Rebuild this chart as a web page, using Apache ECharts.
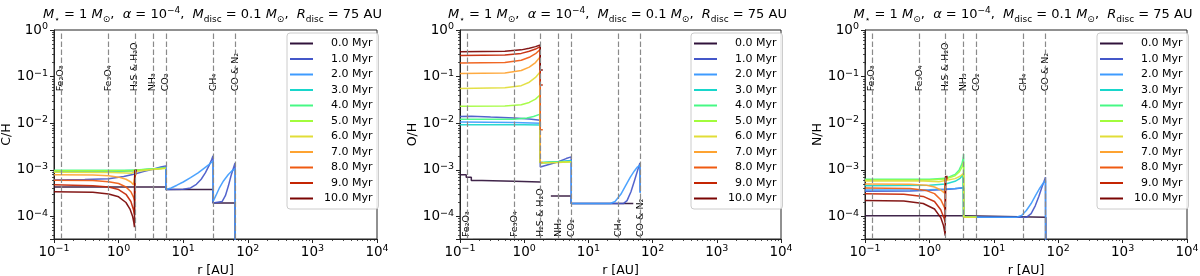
<!DOCTYPE html>
<html><head><meta charset="utf-8">
<script src="https://cdn.jsdelivr.net/npm/echarts@6/dist/echarts.min.js"></script>
<style>html,body{margin:0;padding:0;background:#fff}#c{width:1200px;height:276px}</style>
</head><body><div id="c"></div><script>
// ---------------- data ----------------
const times = ['0.0 Myr','1.0 Myr','2.0 Myr','3.0 Myr','4.0 Myr','5.0 Myr','6.0 Myr','7.0 Myr','8.0 Myr','9.0 Myr','10.0 Myr'];
const colors = ['#30123b','#4457c9','#3e9bfe','#18d6cb','#46f884','#a2fc3c','#e1dd37','#fea331','#ef5a11','#c42503','#7a0403'];
const snowR = [0.128, 0.70, 1.78, 3.4, 5.4, 29, 64];
const snowNames = ['Fe₂O₃','Fe₃O₄','H₂S & H₂O','NH₃','CO₂','CH₄','CO & N₂'];
const yNames = ['C/H','O/H','N/H'];
const xTicks = [0.1, 1, 10, 100, 1000, 10000];

// C/H
const ch0 = [[0.1,4.3e-4],[5.4,4.3e-4],[5.4,3.8e-4],[29,3.8e-4],[29,1.95e-4],[64,1.95e-4],[64,1e-6]];
const ch1 = [[0.1,6.1e-4],[0.3,6.2e-4],[0.7,6.5e-4],[1.2,7.2e-4],[1.78,8.2e-4],[2.5,9.3e-4],[3.4,1.03e-3],[4.5,1.15e-3],[5.4,1.22e-3],[5.4,3.8e-4],[10,3.85e-4],[13,4.1e-4],[16,4.9e-4],[19,6.3e-4],[22,8.6e-4],[25,1.22e-3],[27.5,1.65e-3],[29,2.0e-3],[29,1.95e-4],[40,2.1e-4],[45,2.8e-4],[50,4.5e-4],[55,7.5e-4],[60,1.1e-3],[63.5,1.4e-3],[64,1e-6]];
const ch2 = [[0.1,9.2e-4],[0.5,9.2e-4],[1.0,9.3e-4],[1.78,9.6e-4],[3.4,1.05e-3],[5.4,1.12e-3],[5.4,3.8e-4],[6.5,4.1e-4],[8,4.7e-4],[10,5.5e-4],[13,6.8e-4],[17,8.6e-4],[21,1.08e-3],[25,1.3e-3],[29,1.55e-3],[29,2.1e-4],[32,2.8e-4],[36,4.0e-4],[42,5.8e-4],[50,8.0e-4],[57,9.6e-4],[63.5,1.05e-3],[64,1e-6]];
const ch3 = [[0.1,9.5e-4],[1.0,9.5e-4],[1.78,9.8e-4],[3.4,1.04e-3],[5.4,1.1e-3]];
const ch4 = [[0.1,9.8e-4],[1.0,9.8e-4],[1.78,1.0e-3],[3.4,1.05e-3],[5.4,1.1e-3]];
const ch5 = [[0.1,9.6e-4],[1.0,9.6e-4],[1.5,9.5e-4],[1.78,9.8e-4],[3.4,1.04e-3],[5.4,1.09e-3]];
const ch6 = [[0.1,8.9e-4],[0.8,8.8e-4],[1.3,8.6e-4],[1.6,8.5e-4],[1.78,9.2e-4],[3.4,1.02e-3],[5.4,1.08e-3]];
const ch7 = [[0.1,7.9e-4],[0.4,7.8e-4],[0.7,7.5e-4],[1.0,7.0e-4],[1.3,6.3e-4],[1.55,5.5e-4],[1.7,4.8e-4],[1.77,4.5e-4],[1.78,8.0e-4],[1.92,8.0e-4]];
const ch8 = [[0.1,6.0e-4],[0.4,5.9e-4],[0.7,5.6e-4],[1.0,5.1e-4],[1.3,4.3e-4],[1.55,3.4e-4],[1.7,2.6e-4],[1.77,2.2e-4],[1.78,8.6e-4],[1.92,8.6e-4]];
const ch9 = [[0.1,4.8e-4],[0.4,4.6e-4],[0.7,4.3e-4],[1.0,3.8e-4],[1.3,3.0e-4],[1.55,2.1e-4],[1.7,1.4e-4],[1.76,1.1e-4],[1.78,9.2e-4],[1.92,9.2e-4]];
const ch10 = [[0.1,3.4e-4],[0.4,3.3e-4],[0.7,3.05e-4],[1.0,2.65e-4],[1.3,2.0e-4],[1.5,1.45e-4],[1.65,1.0e-4],[1.72,7.5e-5],[1.76,5.9e-5],[1.78,9.8e-4],[1.92,9.8e-4]];

// O/H
const oh0 = [[0.1,7.9e-4],[0.125,7.9e-4],[0.125,7.0e-4],[0.15,7.0e-4],[0.15,5.9e-4],[0.22,5.9e-4],[0.22,5.7e-4],[0.7,5.7e-4],[0.7,5.5e-4],[1.78,5.5e-4],[2.2,'-'],[2.6,2.75e-4],[5.4,2.75e-4],[5.4,1.9e-4],[50,1.9e-4]];
const oh1 = [[0.1,1.39e-2],[0.15,1.42e-2],[0.3,1.36e-2],[0.7,1.3e-2],[1.2,1.24e-2],[1.78,1.16e-2],[1.78,1.15e-3],[2.5,1.32e-3],[3.4,1.5e-3],[4.5,1.75e-3],[5.4,1.9e-3],[5.4,1.9e-4],[35,1.9e-4],[40,2.2e-4],[46,3.4e-4],[52,5.8e-4],[58,9.5e-4],[63.5,1.4e-3],[64,3.3e-4]];
const oh2 = [[0.1,1.06e-2],[0.7,1.04e-2],[1.78,1.0e-2],[1.78,1.4e-3],[3.4,1.5e-3],[5.4,1.6e-3],[5.4,1.9e-4],[22,1.9e-4],[26,2.1e-4],[32,3.0e-4],[38,4.6e-4],[45,7.0e-4],[52,9.5e-4],[58,1.15e-3],[63.5,1.27e-3],[64,3.2e-4]];
const oh3 = [[0.1,9.3e-3],[1.0,9.3e-3],[1.78,9.2e-3],[1.78,1.45e-3],[3.4,1.5e-3],[5.4,1.55e-3]];
const oh4 = [[0.1,1.22e-2],[0.7,1.22e-2],[1.1,1.3e-2],[1.4,1.4e-2],[1.78,1.57e-2],[1.78,1.42e-3],[3.4,1.47e-3],[5.4,1.52e-3]];
const oh5 = [[0.1,2.32e-2],[0.5,2.35e-2],[0.9,2.5e-2],[1.2,2.8e-2],[1.5,3.3e-2],[1.78,4.1e-2],[1.78,1.42e-3],[3.4,1.46e-3],[5.4,1.5e-3]];
const oh6 = [[0.1,5.6e-2],[0.5,5.8e-2],[0.9,6.4e-2],[1.2,7.6e-2],[1.5,9.6e-2],[1.78,0.127],[1.78,1.42e-3],[3.4,1.45e-3],[5.4,1.5e-3]];
const oh7 = [[0.1,0.117],[0.5,0.12],[0.9,0.135],[1.2,0.16],[1.5,0.2],[1.78,0.267],[1.78,1.45e-3],[1.95,1.45e-3]];
const oh8 = [[0.1,0.195],[0.5,0.2],[0.9,0.225],[1.2,0.26],[1.5,0.31],[1.78,0.385],[1.78,7.3e-3],[1.95,7.3e-3]];
const oh9 = [[0.1,0.283],[0.5,0.29],[0.9,0.315],[1.2,0.35],[1.5,0.39],[1.78,0.44],[1.78,6.6e-2],[1.95,6.6e-2]];
const oh10 = [[0.1,0.342],[0.5,0.35],[0.9,0.375],[1.2,0.405],[1.5,0.44],[1.78,0.475],[1.78,0.138],[1.95,0.138]];

// N/H
const nh0 = [[0.1,1.04e-4],[3.4,1.04e-4],[3.4,9.6e-5],[64,9.6e-5],[64,1e-6]];
const nh1 = [[0.1,3.5e-4],[0.5,3.55e-4],[1.0,3.65e-4],[1.78,3.8e-4],[2.5,3.95e-4],[3.4,4.15e-4],[3.4,9.6e-5],[32,9.6e-5],[38,1.15e-4],[44,1.7e-4],[50,2.7e-4],[56,4.3e-4],[60,5.6e-4],[63.5,7.0e-4],[64,1e-6]];
const nh2 = [[0.1,3.7e-4],[1.0,3.75e-4],[1.78,3.9e-4],[2.5,4.0e-4],[3.4,4.15e-4],[3.4,9.6e-5],[22,9.6e-5],[27,1.05e-4],[32,1.35e-4],[38,1.9e-4],[45,2.9e-4],[52,4.1e-4],[58,5.1e-4],[63.5,5.9e-4],[64,1e-6]];
const nh3 = [[0.1,4.6e-4],[1.0,4.7e-4],[1.78,5.0e-4],[2.5,5.7e-4],[3.0,6.6e-4],[3.3,7.8e-4],[3.4,8.4e-4],[3.4,9.6e-5],[5.4,9.6e-5]];
const nh4 = [[0.1,6.3e-4],[1.0,6.3e-4],[1.78,6.6e-4],[2.5,8.0e-4],[2.9,1.0e-3],[3.2,1.35e-3],[3.35,1.8e-3],[3.4,2.2e-3],[3.4,9.6e-5],[5.4,9.6e-5]];
const nh5 = [[0.1,6.1e-4],[1.0,6.1e-4],[1.78,6.4e-4],[2.5,7.5e-4],[2.9,9.0e-4],[3.2,1.15e-3],[3.4,1.5e-3],[3.4,9.6e-5],[5.4,9.6e-5]];
const nh6 = [[0.1,5.8e-4],[0.8,5.75e-4],[1.4,5.6e-4],[1.78,5.9e-4],[2.5,6.5e-4],[3.0,7.3e-4],[3.4,8.5e-4],[3.4,9.6e-5],[5.4,9.6e-5]];
const nh7 = [[0.1,5.0e-4],[0.5,4.9e-4],[0.9,4.7e-4],[1.2,4.3e-4],[1.5,3.7e-4],[1.7,3.2e-4],[1.77,3.0e-4],[1.78,6.2e-4],[1.92,6.2e-4]];
const nh8 = [[0.1,4.1e-4],[0.5,4.0e-4],[0.9,3.6e-4],[1.2,3.1e-4],[1.5,2.3e-4],[1.7,1.6e-4],[1.77,1.35e-4],[1.78,6.5e-4],[1.92,6.5e-4]];
const nh9 = [[0.1,3.1e-4],[0.4,3.0e-4],[0.8,2.7e-4],[1.2,2.1e-4],[1.5,1.4e-4],[1.7,9.0e-5],[1.76,7.5e-5],[1.78,6.8e-4],[1.92,6.8e-4]];
const nh10 = [[0.1,2.2e-4],[0.4,2.15e-4],[0.8,1.9e-4],[1.2,1.45e-4],[1.5,9.5e-5],[1.65,6.5e-5],[1.72,4.8e-5],[1.76,3.9e-5],[1.78,7.2e-4],[1.92,7.2e-4]];

const chSeries = [ch0,ch1,ch2,ch3,ch4,ch5,ch6,ch7,ch8,ch9,ch10];
const ohSeries = [oh0,oh1,oh2,oh3,oh4,oh5,oh6,oh7,oh8,oh9,oh10];
const nhSeries = [nh0,nh1,nh2,nh3,nh4,nh5,nh6,nh7,nh8,nh9,nh10];
const panels = [chSeries, ohSeries, nhSeries];

// ---------------- layout ----------------
const FONT = 'DejaVu Sans';
const gridLeft = [54, 460, 865];
const gridWidth = [323, 321, 322];
const gridTop = 30, gridHeight = 209;
const yMin = 3.3e-5, yMax = 1;
const labelY = [0.046, 3.45e-5, 0.046];

function pow10(v) {
  const e = Math.log10(v);
  const r = Math.round(e);
  if (Math.abs(e - r) > 1e-6) return '';
  return '{b|10}{p|' + (r < 0 ? '−' : '') + Math.abs(r) + '}';
}
const tickRich = {
  b: {fontSize: 13.5, lineHeight: 17, color: '#000', fontFamily: FONT},
  p: {fontSize: 9.5, lineHeight: 10, verticalAlign: 'top', color: '#000', fontFamily: FONT}
};

const titleText = '{i|M}{s|⋆} = 1 {i|M}{s|⊙},  {i|α} = 10{p|−4},  {i|M}{s|disc} = 0.1 {i|M}{s|⊙},  {i|R}{s|disc} = 75 AU';

const option = {
  animation: false,
  backgroundColor: '#fff',
  title: [0,1,2].map(p => ({
    text: titleText,
    left: gridLeft[p] + gridWidth[p] / 2 - 8,
    top: 1,
    textAlign: 'center',
    textStyle: {
      fontSize: 13, fontWeight: 'normal', color: '#000', fontFamily: FONT, lineHeight: 18,
      rich: {
        i: {fontStyle: 'italic', fontSize: 13, fontFamily: FONT, color: '#000'},
        s: {fontSize: 9, lineHeight: 11, verticalAlign: 'bottom', fontFamily: FONT, color: '#000'},
        p: {fontSize: 9, lineHeight: 11, verticalAlign: 'top', fontFamily: FONT, color: '#000'}
      }
    }
  })),
  grid: [0,1,2].map(p => ({
    left: gridLeft[p], top: gridTop, width: gridWidth[p], height: gridHeight,
    show: true, borderColor: '#222', borderWidth: 1, backgroundColor: 'transparent',
    containLabel: false, outerBoundsMode: 'none'
  })),
  xAxis: [0,1,2].map(p => ({
    type: 'log', logBase: 10, gridIndex: p, min: xTicks[0], max: xTicks[xTicks.length - 1], splitNumber: 5,
    axisLine: {show: true, lineStyle: {color: '#222', width: 1}},
    axisTick: {show: true, inside: false, length: 4, lineStyle: {color: '#222'}},
    minorTick: {show: true, splitNumber: 9, length: 2, lineStyle: {color: '#222', width: 0.8}},
    axisLabel: {formatter: pow10, rich: tickRich, margin: 5, showMinLabel: true, showMaxLabel: true},
    splitLine: {show: false},
    name: 'r [AU]', nameLocation: 'middle', nameGap: 22,
    nameTextStyle: {fontSize: 12.5, color: '#000', fontFamily: FONT}
  })),
  yAxis: [0,1,2].map(p => ({
    type: 'log', logBase: 10, gridIndex: p, min: yMin, max: yMax, splitNumber: 5,
    axisLine: {show: true, lineStyle: {color: '#222', width: 1}},
    axisTick: {show: true, inside: false, length: 4, lineStyle: {color: '#222'}},
    minorTick: {show: true, splitNumber: 9, length: 2, lineStyle: {color: '#222', width: 0.8}},
    axisLabel: {formatter: pow10, rich: tickRich, margin: 6},
    splitLine: {show: false},
    name: yNames[p], nameLocation: 'middle', nameGap: 40,
    nameTextStyle: {fontSize: 12.5, color: '#000', fontFamily: FONT}
  })),
  legend: [0,1,2].map(p => ({
    data: times, orient: 'vertical',
    left: gridLeft[p] + gridWidth[p] - 90, top: 33,
    itemWidth: 23, itemHeight: 2, itemGap: 2.5, icon: 'rect',
    padding: [4, 6, 4, 3],
    backgroundColor: 'rgba(255,255,255,0.85)', borderColor: '#ccc', borderWidth: 1, borderRadius: 3,
    selectedMode: false,
    formatter: n => (n.length < 8 ? '  ' : '') + n,
    textStyle: {fontSize: 11, color: '#000', fontFamily: FONT, lineHeight: 13, padding: [0, 0, 0, 6]}
  })),
  series: []
};

[0,1,2].forEach(p => {
  option.series.push({
    type: 'scatter', xAxisIndex: p, yAxisIndex: p, z: 1,
    symbolSize: 1, itemStyle: {color: 'rgba(0,0,0,0)'}, silent: true,
    data: snowR.map((r, k) => [r, labelY[p], snowNames[k]]),
    label: {
      show: true, position: 'inside', rotate: 90, align: 'left', verticalAlign: 'middle',
      formatter: d => d.data[2], fontSize: 9.5, color: '#000', fontFamily: FONT, opacity: 1,
      backgroundColor: '#fff', padding: [1, 1, 1, 1]
    },
    labelLayout: {hideOverlap: false},
    markLine: {
      silent: true, symbol: 'none', animation: false,
      label: {show: false},
      lineStyle: {type: [5.5, 2.5], color: '#8a8a8a', width: 1.2},
      data: snowR.map(r => ({xAxis: r}))
    }
  });
  panels[p].forEach((d, i) => {
    option.series.push({
      type: 'line', name: times[i], xAxisIndex: p, yAxisIndex: p, z: 2,
      data: d, showSymbol: false, symbol: 'none', smooth: false, clip: true,
      lineStyle: {width: 1.5, color: colors[i], opacity: 0.92},
      itemStyle: {color: colors[i]}
    });
  });
});

const chart = echarts.init(document.getElementById('c'), null, {renderer: 'canvas'});
chart.setOption(option);
</script></body></html>
